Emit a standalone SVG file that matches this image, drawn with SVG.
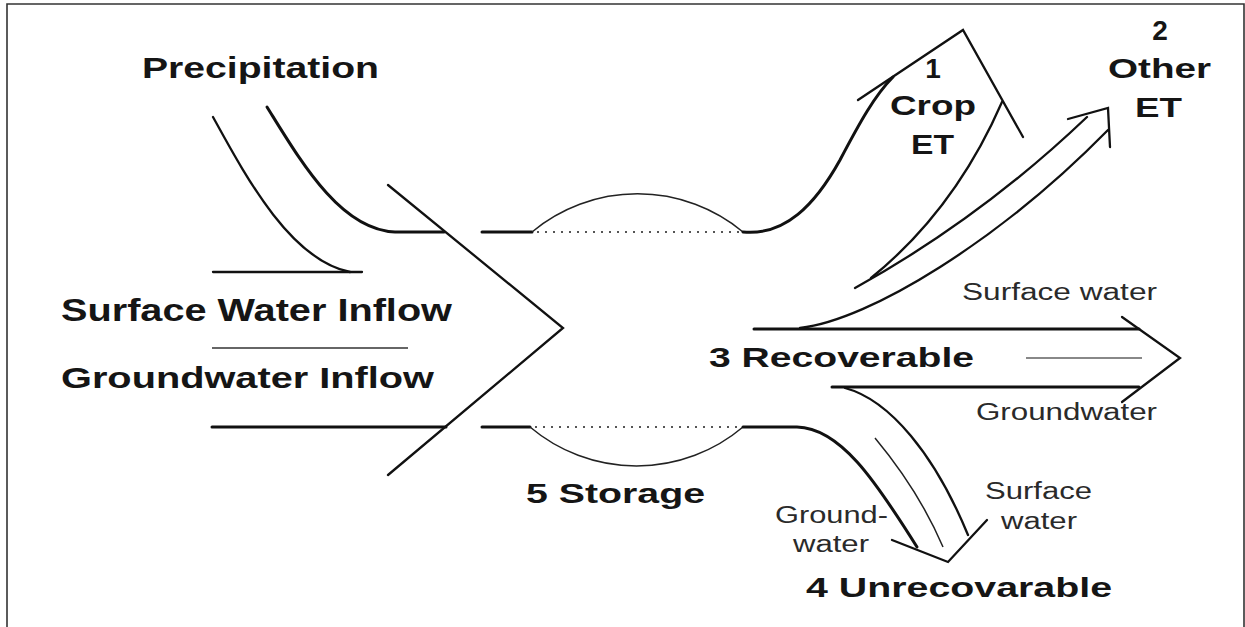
<svg xmlns="http://www.w3.org/2000/svg" width="1245" height="627" viewBox="0 0 1245 627">
<style>
  .b { font-family: "Liberation Sans", Arial, sans-serif; font-weight: bold; fill: #151515; }
  .r { font-family: "Liberation Sans", Arial, sans-serif; fill: #2a2a2a; }
  .thick { fill: none; stroke: #111; stroke-width: 3; stroke-linecap: round; stroke-linejoin: round; }
  .med { fill: none; stroke: #111; stroke-width: 2.3; stroke-linecap: round; stroke-linejoin: miter; }
  .thin { fill: none; stroke: #222; stroke-width: 1.5; }
  .gray { fill: none; stroke: #888; stroke-width: 2; }
  .dot { fill: none; stroke: #555; stroke-width: 2; stroke-dasharray: 2 6; }
</style>
<rect width="1245" height="627" fill="#fff"/>
<g id="frame">
  <path d="M7,627 L7,4 L1244,4 L1244,627" fill="none" stroke="#333" stroke-width="1.6"/>
</g>
<g id="precipitation">
  <text class="b" x="142" y="78" font-size="29" textLength="237" lengthAdjust="spacingAndGlyphs">Precipitation</text>
  <path class="med" d="M213,117 C245,175 290,260 350,272"/>
  <path class="med" d="M213,272 L362,272"/>
  <path class="thick" d="M267,107 C300,160 340,230 395,232 L444,232"/>
</g>
<g id="inflow">
  <text class="b" x="61" y="321" font-size="31" textLength="391" lengthAdjust="spacingAndGlyphs">Surface Water Inflow</text>
  <line x1="212" y1="348" x2="408" y2="348" stroke="#666" stroke-width="1.8"/>
  <text class="b" x="61" y="388" font-size="30" textLength="373" lengthAdjust="spacingAndGlyphs">Groundwater Inflow</text>
  <path class="thick" d="M212,427 L446,427"/>
  <polyline class="med" points="388,185 563,328 388,475"/>
</g>
<g id="storage">
  <path class="thick" d="M482,232 L532,232"/>
  <path class="thick" d="M482,427 L530,427"/>
  <path class="dot" d="M537,232 L742,232"/>
  <path class="dot" d="M535,427 L742,427"/>
  <path class="thin" d="M532,232 A165,165 0 0 1 743,232"/>
  <path class="thin" d="M530,427 A165,165 0 0 0 743,427"/>
  <text class="b" x="526" y="503" font-size="28" textLength="179" lengthAdjust="spacingAndGlyphs">5 Storage</text>
</g>
<g id="crop-et">
  <path class="thick" d="M743,232 C785,236 815,205 840,160 C860,122 875,95 893,77"/>
  <polyline class="med" points="858,100 963,30 1023,137"/>
  <path class="med" d="M871,278 Q955,210 1002,102"/>
  <text class="b" x="933" y="78" font-size="28" text-anchor="middle">1</text>
  <text class="b" x="890" y="115" font-size="27" textLength="86" lengthAdjust="spacingAndGlyphs">Crop</text>
  <text class="b" x="911" y="154" font-size="27" textLength="43" lengthAdjust="spacingAndGlyphs">ET</text>
</g>
<g id="other-et">
  <path class="med" d="M855,288 C920,252 1000,200 1087,117"/>
  <path class="med" d="M800,328 C870,320 1000,240 1108,130"/>
  <polyline class="med" points="1068,119 1108,108 1110,147"/>
  <text class="b" x="1160" y="40" font-size="28" text-anchor="middle">2</text>
  <text class="b" x="1108" y="78" font-size="27" textLength="103" lengthAdjust="spacingAndGlyphs">Other</text>
  <text class="b" x="1135" y="117" font-size="27" textLength="47" lengthAdjust="spacingAndGlyphs">ET</text>
</g>
<g id="recoverable">
  <path class="thick" d="M754,329 L1139,329"/>
  <path class="thick" d="M832,387 L1139,387"/>
  <path class="gray" d="M1026,358 L1142,358"/>
  <polyline class="med" points="1122,317 1180,358 1122,402"/>
  <text class="r" x="962" y="300" font-size="23" textLength="195" lengthAdjust="spacingAndGlyphs">Surface water</text>
  <text class="b" x="709" y="367" font-size="28" textLength="265" lengthAdjust="spacingAndGlyphs">3 Recoverable</text>
  <text class="r" x="976" y="420" font-size="23" textLength="181" lengthAdjust="spacingAndGlyphs">Groundwater</text>
</g>
<g id="unrecoverable">
  <path class="med" d="M845,388 C890,400 935,455 968,535"/>
  <path class="thick" d="M743,427 L797,427 C840,428 875,480 917,547"/>
  <path class="thin" stroke="#555" d="M875,438 C900,468 925,505 943,547"/>
  <polyline class="med" points="892,540 948,562 987,520"/>
  <text class="r" x="985" y="499" font-size="23" textLength="107" lengthAdjust="spacingAndGlyphs">Surface</text>
  <text class="r" x="1001" y="529" font-size="23" textLength="76" lengthAdjust="spacingAndGlyphs">water</text>
  <text class="r" x="775" y="523" font-size="23" textLength="113" lengthAdjust="spacingAndGlyphs">Ground-</text>
  <text class="r" x="793" y="552" font-size="23" textLength="76" lengthAdjust="spacingAndGlyphs">water</text>
  <text class="b" x="806" y="597" font-size="27" textLength="306" lengthAdjust="spacingAndGlyphs">4 Unrecovarable</text>
</g>
</svg>
